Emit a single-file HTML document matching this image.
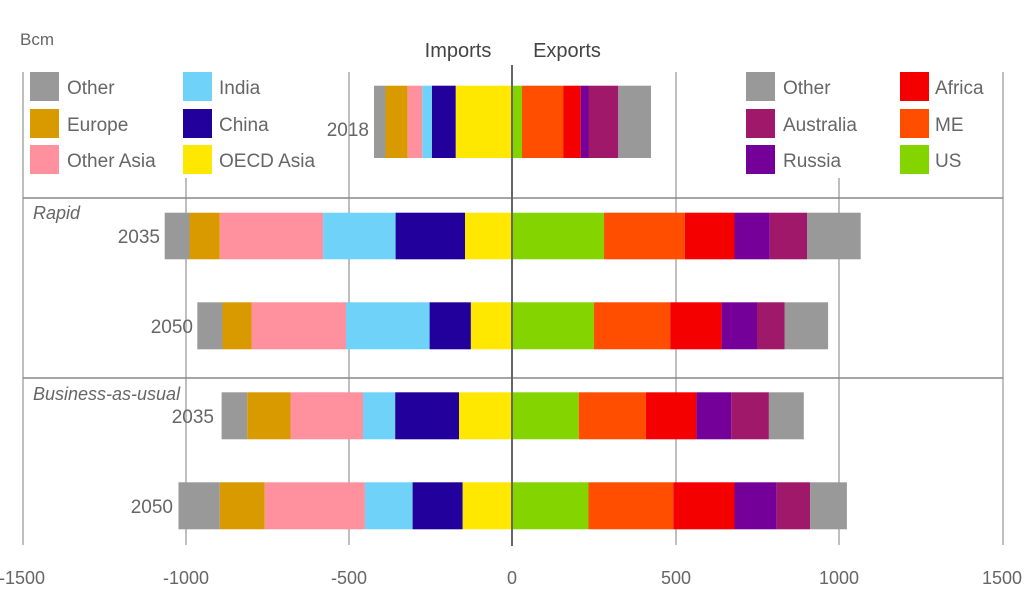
<!DOCTYPE html>
<html><head><meta charset="utf-8"><style>
body{margin:0;background:#fff}
svg text{font-family:"Liberation Sans",sans-serif;fill:#666}
</style></head><body>
<svg width="1024" height="601" viewBox="0 0 1024 601" xmlns="http://www.w3.org/2000/svg">
<g stroke="#aaa" stroke-width="1.5">
<line x1="23" y1="72" x2="23" y2="545"/>
<line x1="1003" y1="72" x2="1003" y2="545"/>
<line x1="186" y1="72" x2="186" y2="545"/>
<line x1="349" y1="72" x2="349" y2="545"/>
<line x1="676" y1="72" x2="676" y2="545"/>
<line x1="839" y1="72" x2="839" y2="545"/>
</g>
<g stroke="#888" stroke-width="1.5">
<line x1="23" y1="198" x2="1003" y2="198"/>
<line x1="23" y1="378" x2="1003" y2="378"/>
</g>
<rect x="26" y="70" width="300" height="108" fill="#fff"/>
<rect x="740" y="70" width="260" height="108" fill="#fff"/>
<g font-size="19">
<rect x="30" y="72" width="29" height="29" fill="#999"/><text x="67" y="94">Other</text>
<rect x="30" y="109" width="29" height="29" fill="#d99a00"/><text x="67" y="131">Europe</text>
<rect x="30" y="145" width="29" height="29" fill="#ff919e"/><text x="67" y="167">Other Asia</text>
<rect x="183" y="72" width="29" height="29" fill="#6ed2f9"/><text x="219" y="94">India</text>
<rect x="183" y="109" width="29" height="29" fill="#22009b"/><text x="219" y="131">China</text>
<rect x="183" y="145" width="29" height="29" fill="#ffe800"/><text x="219" y="167">OECD Asia</text>
<rect x="746" y="72" width="29" height="29" fill="#999"/><text x="783" y="94">Other</text>
<rect x="746" y="109" width="29" height="29" fill="#a0186a"/><text x="783" y="131">Australia</text>
<rect x="746" y="145" width="29" height="29" fill="#750099"/><text x="783" y="167">Russia</text>
<rect x="900" y="72" width="29" height="29" fill="#f50000"/><text x="935" y="94">Africa</text>
<rect x="900" y="109" width="29" height="29" fill="#ff4e00"/><text x="935" y="131">ME</text>
<rect x="900" y="145" width="29" height="29" fill="#84d400"/><text x="935" y="167">US</text>
</g>
<text x="20" y="45" font-size="17">Bcm</text>
<text x="458" y="57" font-size="20" text-anchor="middle" style="fill:#444">Imports</text>
<text x="567" y="57" font-size="20" text-anchor="middle" style="fill:#444">Exports</text>
<text x="33" y="219" font-size="18" font-style="italic">Rapid</text>
<text x="33" y="400" font-size="18" font-style="italic">Business-as-usual</text>
<g font-size="19" text-anchor="end">
<text x="369" y="136">2018</text>
<text x="160" y="243">2035</text>
<text x="193" y="333">2050</text>
<text x="214" y="423">2035</text>
<text x="173" y="513">2050</text>
</g>
<g font-size="18" text-anchor="middle">
<text x="22" y="584">-1500</text>
<text x="186" y="584">-1000</text>
<text x="349" y="584">-500</text>
<text x="512" y="584">0</text>
<text x="676" y="584">500</text>
<text x="839" y="584">1000</text>
<text x="1002" y="584">1500</text>
</g>
<g>
<rect x="374" y="85.7" width="11.5" height="72.3" fill="#999"/>
<rect x="385.5" y="85.7" width="22.1" height="72.3" fill="#d99a00"/>
<rect x="407.6" y="85.7" width="14.7" height="72.3" fill="#ff919e"/>
<rect x="422.3" y="85.7" width="9.7" height="72.3" fill="#6ed2f9"/>
<rect x="432" y="85.7" width="23.8" height="72.3" fill="#22009b"/>
<rect x="455.8" y="85.7" width="56.2" height="72.3" fill="#ffe800"/>
<rect x="512" y="85.7" width="10" height="72.3" fill="#84d400"/>
<rect x="522" y="85.7" width="41.2" height="72.3" fill="#ff4e00"/>
<rect x="563.2" y="85.7" width="17.5" height="72.3" fill="#f50000"/>
<rect x="580.7" y="85.7" width="7.8" height="72.3" fill="#750099"/>
<rect x="588.5" y="85.7" width="29.8" height="72.3" fill="#a0186a"/>
<rect x="618.3" y="85.7" width="32.7" height="72.3" fill="#999"/>

<rect x="164.7" y="212.7" width="24.8" height="46.6" fill="#999"/>
<rect x="189.5" y="212.7" width="30.3" height="46.6" fill="#d99a00"/>
<rect x="219.8" y="212.7" width="103.3" height="46.6" fill="#ff919e"/>
<rect x="323.1" y="212.7" width="72.5" height="46.6" fill="#6ed2f9"/>
<rect x="395.6" y="212.7" width="69.4" height="46.6" fill="#22009b"/>
<rect x="465" y="212.7" width="47" height="46.6" fill="#ffe800"/>
<rect x="512" y="212.7" width="92" height="46.6" fill="#84d400"/>
<rect x="604" y="212.7" width="80.9" height="46.6" fill="#ff4e00"/>
<rect x="684.9" y="212.7" width="49.6" height="46.6" fill="#f50000"/>
<rect x="734.5" y="212.7" width="35.3" height="46.6" fill="#750099"/>
<rect x="769.8" y="212.7" width="37.2" height="46.6" fill="#a0186a"/>
<rect x="807" y="212.7" width="53.7" height="46.6" fill="#999"/>

<rect x="197.3" y="302.3" width="25.2" height="47" fill="#999"/>
<rect x="222.5" y="302.3" width="29" height="47" fill="#d99a00"/>
<rect x="251.5" y="302.3" width="94.5" height="47" fill="#ff919e"/>
<rect x="346" y="302.3" width="83.6" height="47" fill="#6ed2f9"/>
<rect x="429.6" y="302.3" width="41.3" height="47" fill="#22009b"/>
<rect x="470.9" y="302.3" width="41.1" height="47" fill="#ffe800"/>
<rect x="512" y="302.3" width="82" height="47" fill="#84d400"/>
<rect x="594" y="302.3" width="76.2" height="47" fill="#ff4e00"/>
<rect x="670.2" y="302.3" width="51.4" height="47" fill="#f50000"/>
<rect x="721.6" y="302.3" width="35.4" height="47" fill="#750099"/>
<rect x="757" y="302.3" width="27.5" height="47" fill="#a0186a"/>
<rect x="784.5" y="302.3" width="43.6" height="47" fill="#999"/>

<rect x="221.6" y="392.3" width="25.7" height="47" fill="#999"/>
<rect x="247.3" y="392.3" width="43.2" height="47" fill="#d99a00"/>
<rect x="290.5" y="392.3" width="72.5" height="47" fill="#ff919e"/>
<rect x="363" y="392.3" width="32.2" height="47" fill="#6ed2f9"/>
<rect x="395.2" y="392.3" width="63.8" height="47" fill="#22009b"/>
<rect x="459" y="392.3" width="53" height="47" fill="#ffe800"/>
<rect x="512" y="392.3" width="66.8" height="47" fill="#84d400"/>
<rect x="578.8" y="392.3" width="67" height="47" fill="#ff4e00"/>
<rect x="645.8" y="392.3" width="50.6" height="47" fill="#f50000"/>
<rect x="696.4" y="392.3" width="34.9" height="47" fill="#750099"/>
<rect x="731.3" y="392.3" width="37.6" height="47" fill="#a0186a"/>
<rect x="768.9" y="392.3" width="34.9" height="47" fill="#999"/>

<rect x="178.5" y="482.3" width="41.3" height="47" fill="#999"/>
<rect x="219.8" y="482.3" width="45" height="47" fill="#d99a00"/>
<rect x="264.8" y="482.3" width="100.1" height="47" fill="#ff919e"/>
<rect x="364.9" y="482.3" width="47.7" height="47" fill="#6ed2f9"/>
<rect x="412.6" y="482.3" width="50.1" height="47" fill="#22009b"/>
<rect x="462.7" y="482.3" width="49.3" height="47" fill="#ffe800"/>
<rect x="512" y="482.3" width="76.5" height="47" fill="#84d400"/>
<rect x="588.5" y="482.3" width="84.9" height="47" fill="#ff4e00"/>
<rect x="673.4" y="482.3" width="61.1" height="47" fill="#f50000"/>
<rect x="734.5" y="482.3" width="42.2" height="47" fill="#750099"/>
<rect x="776.7" y="482.3" width="33.5" height="47" fill="#a0186a"/>
<rect x="810.2" y="482.3" width="36.7" height="47" fill="#999"/>
</g>
<line x1="512" y1="65" x2="512" y2="546" stroke="#666" stroke-width="2"/>
</svg>
</body></html>
